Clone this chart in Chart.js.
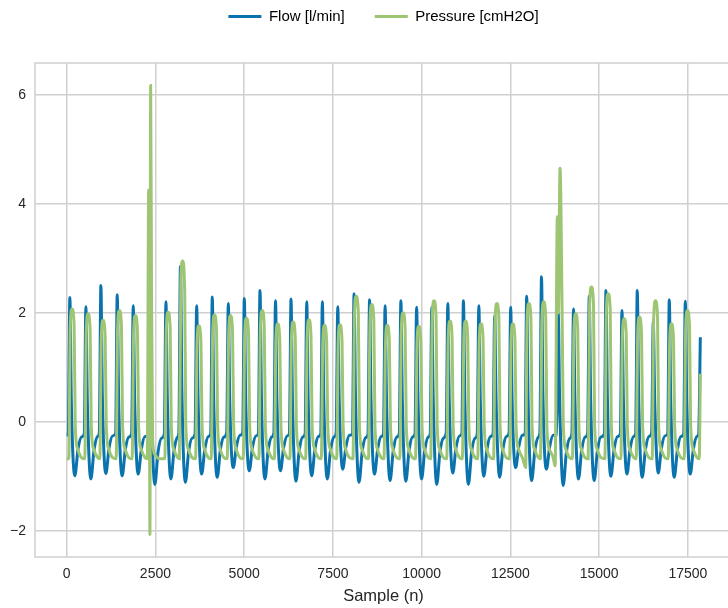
<!DOCTYPE html>
<html>
<head>
<meta charset="utf-8">
<title>Flow and pressure</title>
<script src="https://cdn.jsdelivr.net/npm/chart.js@4.4.1/dist/chart.umd.min.js"></script>
<style>
  html, body { margin: 0; padding: 0; background: #fff; overflow: hidden; }
  #wrap { width: 728px; height: 608px; overflow: hidden; }
</style>
</head>
<body>
<div id="wrap"><canvas id="chart" width="732" height="608"></canvas></div>
<script>
// ── Data ─────────────────────────────────────────────────────
// [sample, value] vertices, one row per breath

const flow = [
  [0, -0.25],
  [45, -0.22], [90, 2.28], [130, 0.4], [230, -0.99], [320, -0.5], [420, -0.28],
  [496, -0.22], [541, 2.11], [581, 0.4], [681, -1.05], [771, -0.52], [871, -0.27],
  [919, -0.2], [964, 2.5], [1004, 0.5], [1104, -0.95], [1194, -0.48], [1294, -0.26],
  [1379, -0.22], [1424, 2.33], [1464, 0.4], [1564, -0.99], [1654, -0.5], [1754, -0.28],
  [1830, -0.22], [1875, 2.13], [1915, 0.4], [2015, -0.96], [2105, -0.5], [2205, -0.27],
  [2300, -0.24], [2345, 1.9], [2385, 0.3], [2485, -1.15], [2575, -0.55], [2675, -0.3],
  [2751, -0.22], [2796, 2.2], [2836, 0.4], [2936, -1.05], [3026, -0.52], [3126, -0.28],
  [3160, -0.2], [3205, 2.85], [3245, 0.6], [3345, -1.11], [3435, -0.55], [3535, -0.3],
  [3617, -0.22], [3662, 2.13], [3702, 0.4], [3802, -0.96], [3892, -0.5], [3992, -0.27],
  [4057, -0.22], [4102, 2.29], [4142, 0.4], [4242, -1.02], [4332, -0.5], [4432, -0.28],
  [4508, -0.2], [4553, 2.17], [4593, 0.4], [4693, -0.84], [4783, -0.45], [4883, -0.25],
  [4959, -0.2], [5004, 2.26], [5044, 0.4], [5144, -0.9], [5234, -0.47], [5334, -0.26],
  [5401, -0.22], [5446, 2.41], [5486, 0.45], [5586, -1.05], [5676, -0.52], [5776, -0.28],
  [5838, -0.2], [5883, 2.22], [5923, 0.4], [6023, -0.9], [6113, -0.47], [6213, -0.26],
  [6275, -0.22], [6320, 2.25], [6360, 0.4], [6460, -1.09], [6550, -0.53], [6650, -0.28],
  [6718, -0.22], [6763, 2.2], [6803, 0.4], [6903, -0.99], [6993, -0.5], [7093, -0.27],
  [7158, -0.22], [7203, 2.2], [7243, 0.4], [7343, -1.05], [7433, -0.52], [7533, -0.28],
  [7592, -0.2], [7637, 2.11], [7677, 0.4], [7777, -0.87], [7867, -0.46], [7967, -0.25],
  [8051, -0.22], [8096, 2.35], [8136, 0.45], [8236, -1.11], [8326, -0.54], [8426, -0.29],
  [8488, -0.22], [8533, 2.24], [8573, 0.4], [8673, -0.96], [8763, -0.49], [8863, -0.27],
  [8925, -0.22], [8970, 2.13], [9010, 0.4], [9110, -1.08], [9200, -0.53], [9300, -0.28],
  [9370, -0.22], [9415, 2.22], [9455, 0.4], [9555, -1.09], [9645, -0.53], [9745, -0.28],
  [9813, -0.22], [9858, 2.1], [9898, 0.4], [9998, -1.05], [10088, -0.52], [10188, -0.28],
  [10241, -0.22], [10286, 2.1], [10326, 0.4], [10426, -1.15], [10516, -0.55], [10616, -0.3],
  [10692, -0.2], [10737, 2.17], [10777, 0.4], [10877, -0.94], [10967, -0.48], [11067, -0.26],
  [11132, -0.22], [11177, 2.22], [11217, 0.4], [11317, -1.15], [11407, -0.55], [11507, -0.3],
  [11566, -0.22], [11611, 2.13], [11651, 0.4], [11751, -1.0], [11841, -0.5], [11941, -0.27],
  [12012, -0.22], [12057, 1.95], [12097, 0.4], [12197, -1.02], [12287, -0.51], [12387, -0.27],
  [12463, -0.2], [12508, 2.1], [12548, 0.4], [12648, -0.84], [12738, -0.45], [12838, -0.25],
  [12914, -0.22], [12959, 2.3], [12999, 0.4], [13099, -1.08], [13189, -0.53], [13289, -0.28],
  [13331, -0.2], [13376, 2.66], [13416, 0.5], [13516, -0.87], [13606, -0.46], [13706, -0.25],
  [13802, -0.24], [13847, 2.0], [13887, 0.4], [13987, -1.17], [14077, -0.56], [14177, -0.3],
  [14233, -0.22], [14278, 2.07], [14318, 0.4], [14418, -1.05], [14508, -0.52], [14608, -0.28],
  [14676, -0.22], [14721, 2.3], [14761, 0.4], [14861, -1.08], [14951, -0.53], [15051, -0.28],
  [15147, -0.22], [15192, 2.41], [15232, 0.45], [15332, -1.0], [15422, -0.5], [15522, -0.27],
  [15598, -0.22], [15643, 2.04], [15683, 0.4], [15783, -0.96], [15873, -0.49], [15973, -0.27],
  [16029, -0.22], [16074, 2.41], [16114, 0.45], [16214, -1.02], [16304, -0.51], [16404, -0.27],
  [16480, -0.2], [16525, 1.85], [16565, 0.4], [16665, -0.94], [16755, -0.48], [16855, -0.26],
  [16931, -0.22], [16976, 2.24], [17016, 0.4], [17116, -1.02], [17206, -0.51], [17306, -0.27],
  [17382, -0.22], [17427, 2.21], [17467, 0.4], [17567, -0.96], [17657, -0.49], [17757, -0.27],
  [17805, -0.22], [17850, 1.55],
];

const pressure = [
  [0, -0.68],
  [60, -0.68], [100, 1.72], [150, 2.07], [210, 1.77], [240, -0.05], [310, -0.5], [420, -0.66],
  [511, -0.68], [551, 1.63], [601, 1.98], [661, 1.68], [691, -0.05], [761, -0.5], [871, -0.66],
  [934, -0.68], [974, 1.51], [1024, 1.86], [1084, 1.56], [1114, -0.05], [1184, -0.5], [1294, -0.66],
  [1394, -0.68], [1434, 1.69], [1484, 2.04], [1544, 1.74], [1574, -0.05], [1644, -0.5], [1754, -0.66],
  [1845, -0.68], [1885, 1.6], [1935, 1.95], [1995, 1.65], [2025, -0.05], [2095, -0.5], [2205, -0.66],
  [2270, -0.68], [2310, 4.25], [2330, 1.0], [2345, -2.07], [2365, 6.17], [2390, 2.5], [2420, -0.3], [2480, -0.6], [2610, -0.68],
  [2766, -0.68], [2806, 1.66], [2856, 2.01], [2916, 1.71], [2946, -0.05], [3016, -0.5], [3126, -0.66],
  [3175, -0.68], [3215, 2.6], [3265, 2.95], [3325, 2.4], [3355, -0.05], [3425, -0.5], [3535, -0.66],
  [3632, -0.68], [3672, 1.41], [3722, 1.76], [3782, 1.46], [3812, -0.05], [3882, -0.5], [3992, -0.66],
  [4072, -0.68], [4112, 1.61], [4162, 1.96], [4222, 1.66], [4252, -0.05], [4322, -0.5], [4432, -0.66],
  [4523, -0.68], [4563, 1.6], [4613, 1.95], [4673, 1.65], [4703, -0.05], [4773, -0.5], [4883, -0.66],
  [4974, -0.68], [5014, 1.55], [5064, 1.9], [5124, 1.6], [5154, -0.05], [5224, -0.5], [5334, -0.66],
  [5416, -0.68], [5456, 1.69], [5506, 2.04], [5566, 1.74], [5596, -0.05], [5666, -0.5], [5776, -0.66],
  [5853, -0.68], [5893, 1.45], [5943, 1.8], [6003, 1.5], [6033, -0.05], [6103, -0.5], [6213, -0.66],
  [6290, -0.68], [6330, 1.48], [6380, 1.83], [6440, 1.53], [6470, -0.05], [6540, -0.5], [6650, -0.66],
  [6733, -0.68], [6773, 1.52], [6823, 1.87], [6883, 1.57], [6913, -0.05], [6983, -0.5], [7093, -0.66],
  [7173, -0.68], [7213, 1.42], [7263, 1.77], [7323, 1.47], [7353, -0.05], [7423, -0.5], [7533, -0.66],
  [7607, -0.68], [7647, 1.43], [7697, 1.78], [7757, 1.48], [7787, -0.05], [7857, -0.5], [7967, -0.66],
  [8066, -0.68], [8106, 1.95], [8156, 2.3], [8216, 2.0], [8246, -0.05], [8316, -0.5], [8426, -0.66],
  [8503, -0.68], [8543, 1.8], [8593, 2.15], [8653, 1.85], [8683, -0.05], [8753, -0.5], [8863, -0.66],
  [8940, -0.68], [8980, 1.42], [9030, 1.77], [9090, 1.47], [9120, -0.05], [9190, -0.5], [9300, -0.66],
  [9385, -0.68], [9425, 1.65], [9475, 2.0], [9535, 1.7], [9565, -0.05], [9635, -0.5], [9745, -0.66],
  [9828, -0.68], [9868, 1.4], [9918, 1.75], [9978, 1.45], [10008, -0.05], [10078, -0.5], [10188, -0.66],
  [10256, -0.68], [10296, 1.87], [10346, 2.22], [10406, 1.92], [10436, -0.05], [10506, -0.5], [10616, -0.66],
  [10707, -0.68], [10747, 1.5], [10797, 1.85], [10857, 1.55], [10887, -0.05], [10957, -0.5], [11067, -0.66],
  [11147, -0.68], [11187, 1.5], [11237, 1.85], [11297, 1.55], [11327, -0.05], [11397, -0.5], [11507, -0.66],
  [11581, -0.68], [11621, 1.45], [11671, 1.8], [11731, 1.5], [11761, -0.05], [11831, -0.5], [11941, -0.66],
  [12027, -0.68], [12067, 1.82], [12117, 2.17], [12177, 1.87], [12207, -0.05], [12277, -0.5], [12387, -0.66],
  [12478, -0.68], [12518, 1.45], [12568, 1.8], [12628, 1.5], [12658, -0.05], [12728, -0.5], [12838, -0.66],
  [12929, -0.84], [12969, 1.82], [13019, 2.17], [13079, 1.87], [13109, -0.05], [13179, -0.5], [13289, -0.66],
  [13346, -0.68], [13386, 1.85], [13436, 2.2], [13496, 1.9], [13526, -0.05], [13596, -0.5], [13706, -0.66],
  [13760, -0.81], [13822, 3.76], [13850, 2.0], [13898, 4.65], [13960, 1.8], [13990, -0.05], [14060, -0.5], [14170, -0.66],
  [14248, -0.68], [14288, 1.63], [14338, 1.98], [14398, 1.68], [14428, -0.05], [14498, -0.5], [14608, -0.66],
  [14691, -0.68], [14731, 2.12], [14781, 2.47], [14841, 2.17], [14871, -0.05], [14941, -0.5], [15051, -0.66],
  [15162, -0.68], [15202, 2.0], [15252, 2.35], [15312, 2.05], [15342, -0.05], [15412, -0.5], [15522, -0.66],
  [15613, -0.68], [15653, 1.54], [15703, 1.89], [15763, 1.59], [15793, -0.05], [15863, -0.5], [15973, -0.66],
  [16044, -0.68], [16084, 1.57], [16134, 1.92], [16194, 1.62], [16224, -0.05], [16294, -0.5], [16404, -0.66],
  [16495, -0.68], [16535, 1.87], [16585, 2.22], [16645, 1.92], [16675, -0.05], [16745, -0.5], [16855, -0.66],
  [16946, -0.68], [16986, 1.45], [17036, 1.8], [17096, 1.5], [17126, -0.05], [17196, -0.5], [17306, -0.66],
  [17397, -0.68], [17437, 1.69], [17487, 2.04], [17547, 1.74], [17577, -0.05], [17647, -0.5], [17757, -0.66],
  [17820, -0.68], [17850, 0.88],
];

const seriesLabels = ["Flow [l/min]", "Pressure [cmH2O]"];
const xTicks = [0, 2500, 5000, 7500, 10000, 12500, 15000, 17500];
const yTicks = [-2, 0, 2, 4, 6];
const yTickLabels = ["\u22122", "0", "2", "4", "6"];

// ── Style ────────────────────────────────────────────────────

const FONT = "'Liberation Sans', Arial, Helvetica, sans-serif";
const TEXT = "#262626";
const GRID = "#d0d0d0";
const COLORS = ["#0a72ad", "#9ec574"];

// axes span the data plus 5% on each side
const xMin = -0.05 * 17850, xMax = 17850 * 1.05;
const yMin = -2.07 - 0.05 * 8.24, yMax = 6.17 + 0.05 * 8.24;

// legend sits above the axes; reserve the gap down to the frame
const legendSpacer = {
  id: "legendSpacer",
  beforeInit(chart) {
    const fit = chart.legend.fit;
    chart.legend.fit = function () {
      fit.call(this);
      this.height = 84;
    };
  },
};

// full rectangle round the plot, all four sides
const frame = {
  id: "frame",
  beforeDatasetsDraw(chart) {
    const { ctx, chartArea: a } = chart;
    ctx.save();
    ctx.strokeStyle = GRID;
    ctx.lineWidth = 1.5;
    ctx.strokeRect(a.left, a.top, a.right - a.left, a.bottom - a.top);
    ctx.restore();
  },
};

// ── Chart ────────────────────────────────────────────────────

new Chart(document.getElementById("chart"), {
  type: "line",
  data: {
    datasets: [flow, pressure].map((pts, i) => ({
      label: seriesLabels[i],
      data: pts.map(([x, y]) => ({ x, y })),
      borderColor: COLORS[i],
      backgroundColor: COLORS[i],
      borderWidth: 3,
      pointRadius: 0,
      cubicInterpolationMode: "monotone",
      fill: false,
      order: 1 - i, // pressure is painted over flow
    })),
  },
  options: {
    responsive: false,
    animation: false,
    devicePixelRatio: 1,
    layout: { padding: { top: -21, left: 0, right: 0, bottom: 0 } },
    plugins: {
      tooltip: { enabled: false },
      legend: {
        position: "top",
        fullSize: false,
        labels: {
          boxWidth: 33,
          boxHeight: 3,
          padding: 30,
          color: TEXT,
          font: { family: FONT, size: 15 },
          generateLabels: (chart) =>
            chart.data.datasets.map((d, i) => ({
              text: d.label,
              fillStyle: d.borderColor,
              strokeStyle: d.borderColor,
              lineWidth: 0,
              hidden: false,
              datasetIndex: i,
            })),
        },
      },
    },
    scales: {
      x: {
        type: "linear",
        min: xMin,
        max: xMax,
        afterBuildTicks: (s) => { s.ticks = xTicks.map((v) => ({ value: v })); },
        afterFit: (s) => { s.height = 51; },
        grid: { color: GRID, lineWidth: 1.5, drawTicks: false },
        border: { display: false },
        ticks: {
          padding: 9,
          color: TEXT,
          font: { family: FONT, size: 14 },
          maxRotation: 0,
          autoSkip: false,
          callback: (v) => String(v),
        },
        title: {
          display: true,
          text: "Sample (n)",
          color: TEXT,
          font: { family: FONT, size: 16.5 },
          padding: { top: 0, bottom: 2 },
        },
      },
      y: {
        type: "linear",
        min: yMin,
        max: yMax,
        afterBuildTicks: (s) => { s.ticks = yTicks.map((v) => ({ value: v })); },
        afterFit: (s) => { s.width = 35; },
        grid: { color: GRID, lineWidth: 1.5, drawTicks: false },
        border: { display: false },
        ticks: {
          padding: 9,
          color: TEXT,
          font: { family: FONT, size: 14 },
          callback: (v) => yTickLabels[yTicks.indexOf(v)],
        },
      },
    },
  },
  plugins: [legendSpacer, frame],
});
</script>
</body>
</html>
